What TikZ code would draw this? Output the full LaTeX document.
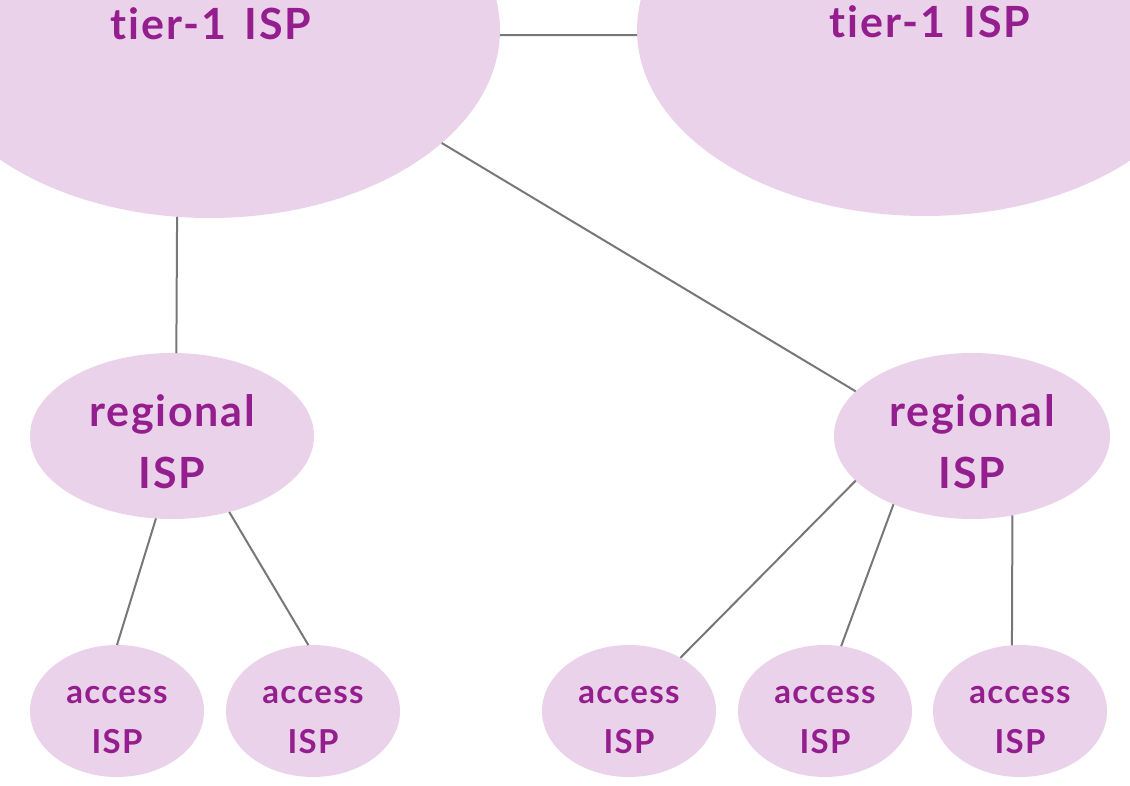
\documentclass[tikz,border=0pt]{standalone}
\usepackage{fontspec}
\setmainfont{Lato}[Ligatures={NoCommon,NoRare},LetterSpace=4]
\usetikzlibrary{shapes.geometric}
\definecolor{ispfill}{HTML}{EAD3EA}
\definecolor{isptext}{HTML}{951E8E}
\definecolor{linkgray}{HTML}{777777}
\tikzset{
  isp/.style={ellipse, fill=ispfill, draw=none, inner sep=0pt, outer sep=0pt},
  tierone/.style={isp, minimum width=580pt, minimum height=376pt},
  regional/.style={isp, minimum width=284pt, minimum height=166pt},
  access/.style={isp, minimum width=174pt, minimum height=132pt},
  lbl/.style={text=isptext, inner sep=0pt, anchor=base},
  biglbl/.style={lbl, font=\fontsize{43}{48}\selectfont\bfseries},
  acclbl/.style={lbl, font=\fontsize{33}{38}\selectfont\bfseries},
  link/.style={draw=linkgray, line width=2pt}
}
\begin{document}
\begin{tikzpicture}[x=1pt,y=-1pt]
\useasboundingbox (0,0) rectangle (1130,786);
\begin{scope}
\clip (0,0) rectangle (1130,786);
\node[tierone] (t1) at (210,30) {};
\node[tierone, minimum width=576pt, minimum height=372pt] (t2) at (925,30) {};
\node[regional] (r1) at (172,436) {};
\node[regional, minimum width=276pt] (r2) at (972,436) {};
\node[access] (a1) at (117,711) {};
\node[access] (a2) at (313,711) {};
\node[access] (a3) at (629,711) {};
\node[access] (a4) at (825,711) {};
\node[access] (a5) at (1020,711) {};

\draw[link] (t1.-1.2) -- (t2.181.2);
\draw[link] (t1.-26.8) -- (r2.159.7);
\draw[link] (t1.-100.9) -- (r1.87.3);
\draw[link] (r1.-101.6) -- (a1.90);
\draw[link] (r1.-53) -- (a2.94.3);
\draw[link] (r2.201.5) -- (a3.46);
\draw[link] (r2.-139.7) -- (a4.76.2);
\draw[link] (r2.-63.9) -- (a5.97.9);

\node[biglbl] (t1l) at (211,40) {tier-1\hspace{0.15em} ISP};
\node[biglbl] (t2l) at (930,38) {tier-1\hspace{0.15em} ISP};
\node[biglbl] (r1a) at (172,426) {regional};
\node[biglbl] (r1b) at (172,488) {ISP};
\node[biglbl] (r2a) at (972,426) {regional};
\node[biglbl] (r2b) at (972,488) {ISP};
\foreach \n/\x in {1/117,2/313,3/629,4/825,5/1020}{
  \node[acclbl] (a\n a) at (\x,703) {access};
  \node[acclbl] (a\n b) at (\x,753) {ISP};
}
\end{scope}
\end{tikzpicture}
\end{document}
